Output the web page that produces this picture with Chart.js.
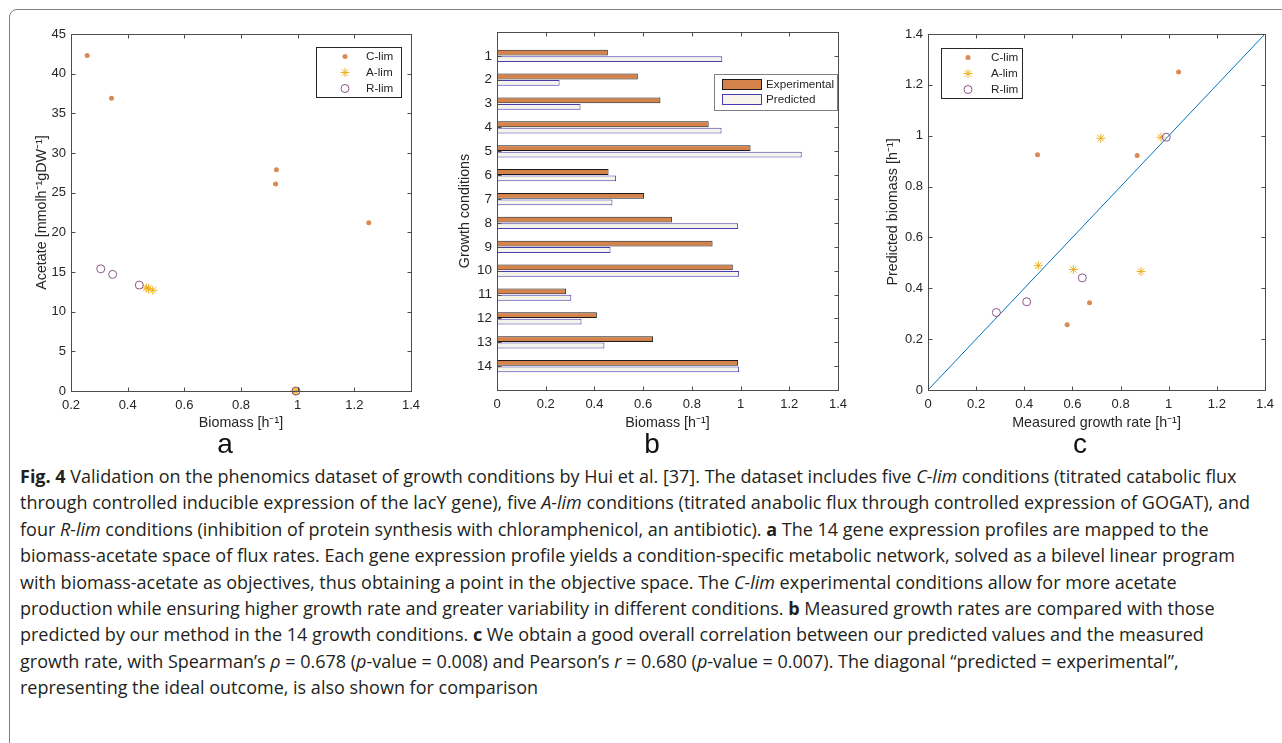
<!DOCTYPE html>
<html>
<head>
<meta charset="utf-8">
<script src="https://cdn.jsdelivr.net/npm/chart.js@4.4.1/dist/chart.umd.min.js"></script>
<style>
  body { margin: 0; background: #fff; }
  #page { position: relative; width: 1282px; height: 743px; overflow: hidden; background: #fff; }
  #frame { position: absolute; left: 9px; top: 9px; width: 1300px; height: 800px;
           border: 1.5px solid #808080; border-radius: 8px; }
  canvas { position: absolute; top: 0; }
  .panel { position: absolute; top: 430px; font: 28px "Liberation Sans", Arial, sans-serif;
           line-height: 1; color: #111; transform: translateX(-50%); }
  #caption { position: absolute; left: 20px; top: 463px; font-family: "Open Sans", sans-serif;
             font-size: 18px; line-height: 26.4px; color: #231f20; white-space: nowrap;
             transform-origin: 0 0; }
  #caption b { font-weight: 700; }
</style>
</head>
<body>
<div id="page">
  <div id="frame"></div>
  <canvas id="chartA" width="430" height="440" style="left:0px"></canvas>
  <canvas id="chartB" width="430" height="440" style="left:430px"></canvas>
  <canvas id="chartC" width="422" height="440" style="left:860px"></canvas>
  <div class="panel" style="left:225px">a</div>
  <div class="panel" style="left:652px">b</div>
  <div class="panel" style="left:1080px">c</div>
  <div id="caption">
    <div id="capLine1"><b>Fig. 4</b> Validation on the phenomics dataset of growth conditions by Hui et al. [37]. The dataset includes five <i>C-lim</i> conditions (titrated catabolic flux</div>
    <div>through controlled inducible expression of the lacY gene), five <i>A-lim</i> conditions (titrated anabolic flux through controlled expression of GOGAT), and</div>
    <div>four <i>R-lim</i> conditions (inhibition of protein synthesis with chloramphenicol, an antibiotic). <b>a</b> The 14 gene expression profiles are mapped to the</div>
    <div>biomass-acetate space of flux rates. Each gene expression profile yields a condition-specific metabolic network, solved as a bilevel linear program</div>
    <div>with biomass-acetate as objectives, thus obtaining a point in the objective space. The <i>C-lim</i> experimental conditions allow for more acetate</div>
    <div>production while ensuring higher growth rate and greater variability in different conditions. <b>b</b> Measured growth rates are compared with those</div>
    <div>predicted by our method in the 14 growth conditions. <b>c</b> We obtain a good overall correlation between our predicted values and the measured</div>
    <div>growth rate, with Spearman’s <i>ρ</i> = 0.678 (<i>p</i>-value = 0.008) and Pearson’s <i>r</i> = 0.680 (<i>p</i>-value = 0.007). The diagonal “predicted = experimental”,</div>
    <div>representing the ideal outcome, is also shown for comparison</div>
  </div>
</div>
<script>
  // data (one entry per growth condition)
  const conditions = [1, 2, 3, 4, 5, 6, 7, 8, 9, 10, 11, 12, 13, 14];
  const limitation = ['C-lim', 'C-lim', 'C-lim', 'C-lim', 'C-lim',
                      'A-lim', 'A-lim', 'A-lim', 'A-lim', 'A-lim',
                      'R-lim', 'R-lim', 'R-lim', 'R-lim'];
  const experimental = [0.455, 0.578, 0.671, 0.869, 1.041, 0.458, 0.604, 0.718, 0.885, 0.968, 0.284, 0.410, 0.641, 0.990];
  const predicted = [0.925, 0.257, 0.343, 0.922, 1.251, 0.489, 0.474, 0.990, 0.466, 0.994, 0.305, 0.347, 0.441, 0.994];
  const acetate = [27.9, 42.3, 36.9, 26.1, 21.2, 12.7, 12.9, 0, 13.0, 0, 15.4, 14.7, 13.35, 0];
  const groups = ['C-lim', 'A-lim', 'R-lim'];
  const diagonal = [0, 1.4];

  // styles
  const axisColor = '#4d4d4d';
  const textColor = '#262626';
  const fontFamily = '"Liberation Sans", Arial, Helvetica, sans-serif';
  const tickFont = { family: fontFamily, size: 13 };
  const titleFont = { family: fontFamily, size: 14.3 };
  const legendFont = '11.7px ' + fontFamily;

  const markerStyles = {
    'C-lim': { pointStyle: 'circle', pointRadius: 2.5, bg: '#DA8A55', border: '#DA8A55', borderWidth: 0 },
    'A-lim': { pointStyle: 'star', pointRadius: 4.5, bg: '#EDB120', border: '#EDB120', borderWidth: 1 },
    'R-lim': { pointStyle: 'circle', pointRadius: 4, bg: 'rgba(0,0,0,0)', border: '#8A5589', borderWidth: 1 },
  };

  function crisp(v) { return Math.round(v) + 0.5; }

  // MATLAB-like box with inward ticks on all four sides, plus an optional legend
  function boxPlugin(drawLegend) {
    return {
      id: 'matlabBox',
      afterDatasetsDraw(chart) {
        const { ctx, chartArea: a, scales } = chart;
        const L = crisp(a.left), R = crisp(a.right), T = crisp(a.top), B = crisp(a.bottom);
        ctx.save();
        ctx.strokeStyle = axisColor;
        ctx.lineWidth = 1;
        ctx.strokeRect(L, T, R - L, B - T);
        ctx.beginPath();
        scales.x.ticks.forEach(t => {
          const px = crisp(scales.x.getPixelForValue(t.value));
          ctx.moveTo(px, B); ctx.lineTo(px, B - 4);
          ctx.moveTo(px, T); ctx.lineTo(px, T + 4);
        });
        scales.y.ticks.forEach(t => {
          const py = crisp(scales.y.getPixelForValue(t.value));
          ctx.moveTo(L, py); ctx.lineTo(L + 4, py);
          ctx.moveTo(R, py); ctx.lineTo(R - 4, py);
        });
        ctx.stroke();
        if (drawLegend) drawLegend(ctx);
        ctx.restore();
      }
    };
  }

  function drawMarker(ctx, s, x, y) {
    ctx.save();
    ctx.lineWidth = s.borderWidth || 1;
    ctx.strokeStyle = s.border;
    ctx.fillStyle = s.bg;
    const r = s.pointRadius;
    ctx.beginPath();
    if (s.pointStyle === 'star') {
      const d = r * Math.SQRT1_2;
      ctx.moveTo(x - r, y); ctx.lineTo(x + r, y);
      ctx.moveTo(x, y - r); ctx.lineTo(x, y + r);
      ctx.moveTo(x - d, y - d); ctx.lineTo(x + d, y + d);
      ctx.moveTo(x - d, y + d); ctx.lineTo(x + d, y - d);
      ctx.stroke();
    } else {
      ctx.arc(x, y, r, 0, Math.PI * 2);
      if (s.borderWidth === 0) ctx.fill(); else ctx.stroke();
    }
    ctx.restore();
  }

  function scatterLegend(bx, by, bw, bh, markerX, textX) {
    return function (ctx) {
      ctx.fillStyle = '#fff';
      ctx.fillRect(bx, by, bw, bh);
      ctx.strokeStyle = '#262626';
      ctx.strokeRect(crisp(bx), crisp(by), bw, bh);
      ctx.font = legendFont;
      ctx.textBaseline = 'middle';
      groups.forEach((g, i) => {
        const y = by + 9.5 + i * 16;
        drawMarker(ctx, markerStyles[g], bx + markerX, y);
        ctx.fillStyle = textColor;
        ctx.fillText(g, bx + textX, y + 0.5);
      });
    };
  }

  function scatterDatasets(xs, ys) {
    return groups.map(g => {
      const s = markerStyles[g];
      return {
        label: g,
        data: conditions.map((c, i) => ({ x: xs[i], y: ys[i], g: limitation[i] })).filter(p => p.g === g),
        pointStyle: s.pointStyle,
        pointRadius: s.pointRadius,
        pointBackgroundColor: s.bg,
        pointBorderColor: s.border,
        pointBorderWidth: s.borderWidth,
        showLine: false,
        clip: false,
      };
    }).reverse();
  }

  function fmt(v) { return String(Number(v.toFixed(1))); }

  const noGrid = { display: false, drawTicks: false, tickLength: 0, offset: false };

  function xScale(min, max, height, title) {
    return {
      type: 'linear', min: min, max: max,
      grid: noGrid, border: { display: false },
      ticks: { stepSize: 0.2, autoSkip: false, maxRotation: 0, padding: 7, color: textColor, font: tickFont, callback: fmt },
      title: { display: true, text: title, color: textColor, font: titleFont, padding: { top: 0, bottom: 8.5 } },
      afterFit: s => { s.height = height; },
    };
  }

  function yScale(extra, width, titleOffset, title) {
    return Object.assign({
      type: 'linear',
      grid: noGrid, border: { display: false },
      title: { display: true, text: title, color: textColor, font: titleFont, padding: { top: titleOffset, bottom: 0 } },
      afterFit: s => { s.width = width; },
    }, extra);
  }

  const common = {
    responsive: false,
    animation: false,
    events: [],
    plugins: { legend: { display: false }, tooltip: { enabled: false } },
  };

  // (a) biomass vs acetate
  new Chart(document.getElementById('chartA'), {
    type: 'scatter',
    data: { datasets: scatterDatasets(predicted, acetate) },
    options: Object.assign({}, common, {
      layout: { padding: { left: 0, top: 34, right: 19, bottom: 0 } },
      scales: {
        x: xScale(0.2, 1.4, 49, 'Biomass [h⁻¹]'),
        y: yScale({ min: 0, max: 45,
          ticks: { stepSize: 5, autoSkip: false, padding: 5, color: textColor, font: tickFont } },
          71, 33.4, 'Acetate [mmolh⁻¹gDW⁻¹]'),
      },
    }),
    plugins: [boxPlugin(scatterLegend(316, 47, 85, 50, 29, 50))],
  });

  // (b) experimental vs predicted growth per condition
  function barLegend(ctx) {
    const bx = 284, by = 74, bw = 123, bh = 36;
    ctx.fillStyle = '#fff';
    ctx.fillRect(bx, by, bw, bh);
    ctx.strokeStyle = '#7f7f7f';
    ctx.strokeRect(crisp(bx), crisp(by), bw, bh);
    const items = [
      { label: 'Experimental', bg: '#D5834A', border: '#1a1a1a', y: 79 },
      { label: 'Predicted', bg: '#F6F3EA', border: '#4A3AB0', y: 94 },
    ];
    ctx.font = legendFont;
    ctx.textBaseline = 'middle';
    items.forEach(it => {
      ctx.fillStyle = it.bg;
      ctx.fillRect(292, it.y, 40, 11);
      ctx.strokeStyle = it.border;
      ctx.strokeRect(292.5, it.y + 0.5, 39, 10);
      ctx.fillStyle = textColor;
      ctx.fillText(it.label, 336, it.y + 6);
    });
  }

  new Chart(document.getElementById('chartB'), {
    type: 'bar',
    data: {
      datasets: [
        { label: 'Experimental', data: conditions.map((c, i) => ({ x: experimental[i], y: c })),
          backgroundColor: '#D5834A', borderColor: '#1a1a1a', borderWidth: 1,
          categoryPercentage: 0.54, barPercentage: 0.9 },
        { label: 'Predicted', data: conditions.map((c, i) => ({ x: predicted[i], y: c })),
          backgroundColor: '#F6F3EA', borderColor: '#4A3AB0', borderWidth: 1,
          categoryPercentage: 0.54, barPercentage: 0.9 },
      ],
    },
    options: Object.assign({}, common, {
      indexAxis: 'y',
      layout: { padding: { left: 0, top: 32, right: 22, bottom: 0 } },
      scales: {
        x: xScale(0, 1.4, 50, 'Biomass [h⁻¹]'),
        y: yScale({ min: 0, max: 15, reverse: true, offset: false,
          ticks: { autoSkip: false, padding: 5, color: textColor, font: { family: fontFamily, size: 13.5 } },
          afterBuildTicks: s => { s.ticks = conditions.map(v => ({ value: v })); } },
          67, 26.4, 'Growth conditions'),
      },
    }),
    plugins: [boxPlugin(barLegend)],
  });

  // (c) measured vs predicted, with the identity line
  const cSets = scatterDatasets(experimental, predicted);
  cSets.push({
    type: 'line', label: 'ideal',
    data: diagonal.map(v => ({ x: v, y: v })),
    borderColor: '#0072BD', borderWidth: 1, pointRadius: 0, showLine: true, fill: false,
  });

  new Chart(document.getElementById('chartC'), {
    type: 'scatter',
    data: { datasets: cSets },
    options: Object.assign({}, common, {
      layout: { padding: { left: 0, top: 34, right: 17, bottom: 0 } },
      scales: {
        x: xScale(0, 1.4, 50, 'Measured growth rate [h⁻¹]'),
        y: yScale({ min: 0, max: 1.4,
          ticks: { stepSize: 0.2, autoSkip: false, padding: 5, color: textColor, font: tickFont, callback: fmt } },
          68, 24.4, 'Predicted biomass [h⁻¹]'),
      },
    }),
    plugins: [boxPlugin(scatterLegend(81, 48, 81, 50, 27, 50))],
  });

  // squeeze caption so the first line spans the same width as the figure's caption
  function fitCaption() {
    const line = document.getElementById('capLine1');
    const r = document.createRange();
    r.selectNodeContents(line);
    const w = r.getBoundingClientRect().width;
    document.getElementById('caption').style.transform = 'scaleX(' + (1248 / w) + ')';
  }
  fitCaption();
  if (document.fonts) document.fonts.ready.then(fitCaption);
</script>
</body>
</html>
